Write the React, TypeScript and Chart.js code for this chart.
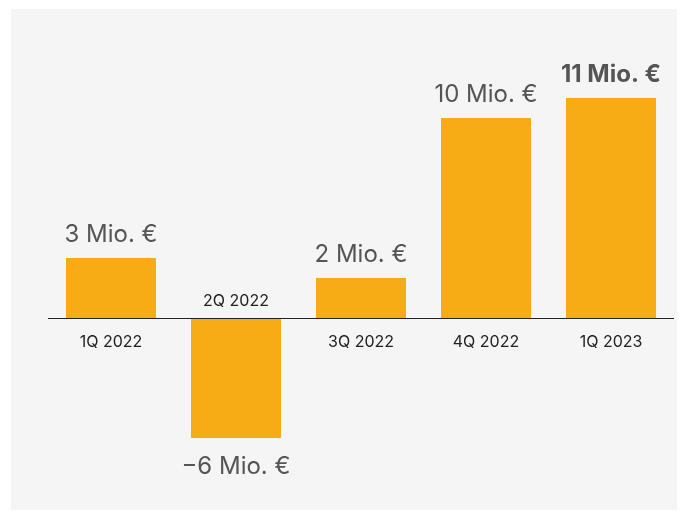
import React, { useEffect, useRef } from "react";
import { Chart, registerables } from "chart.js";

Chart.register(...registerables);

const categories = ["1Q 2022", "2Q 2022", "3Q 2022", "4Q 2022", "1Q 2023"];
const values = [3, -6, 2, 10, 11];
const highlightIndex = 4;
const yMin = -9;
const yMax = 15;

const FONT = "Inter, 'Noto Sans', sans-serif";

function fmt(v: number) {
  return (v < 0 ? "\u2212" + Math.abs(v) : String(v)) + " Mio. \u20AC";
}

export default function App() {
  const ref = useRef<HTMLCanvasElement | null>(null);

  useEffect(() => {
    document.body.style.margin = "0";
    const canvas = ref.current;
    if (!canvas) return;

    const panelPlugin = {
      id: "panel",
      beforeDraw(chart: any) {
        const ctx = chart.ctx;
        ctx.save();
        ctx.fillStyle = "#ffffff";
        ctx.fillRect(0, 0, chart.width, chart.height);
        ctx.fillStyle = "#f5f5f5";
        ctx.fillRect(11, 9, 666, 501);
        ctx.restore();
      },
      afterDatasetsDraw(chart: any) {
        const ctx = chart.ctx;
        const meta = chart.getDatasetMeta(0);
        const zeroY = chart.scales.y.getPixelForValue(0);
        ctx.save();
        ctx.strokeStyle = "#222222";
        ctx.lineWidth = 1;
        ctx.beginPath();
        ctx.moveTo(48, Math.round(zeroY) + 0.5);
        ctx.lineTo(674, Math.round(zeroY) + 0.5);
        ctx.stroke();
        ctx.textAlign = "center";
        meta.data.forEach((el: any, i: number) => {
          const v = values[i];
          const x = el.x;
          const bold = i === highlightIndex;
          ctx.fillStyle = "#555555";
          ctx.font = (bold ? "700 " : "400 ") + "24px " + FONT;
          if (v >= 0) {
            ctx.textBaseline = "alphabetic";
            ctx.fillText(fmt(v), x, el.y - 16);
          } else {
            ctx.textBaseline = "top";
            ctx.fillText(fmt(v), x, el.y + 17);
          }
          ctx.fillStyle = "#222222";
          ctx.font = "400 16px " + FONT;
          if (v >= 0) {
            ctx.textBaseline = "top";
            ctx.fillText(categories[i], x, zeroY + 16);
          } else {
            ctx.textBaseline = "alphabetic";
            ctx.fillText(categories[i], x, zeroY - 12);
          }
        });
        ctx.restore();
      },
    };

    const chart = new Chart(canvas, {
      type: "bar",
      data: {
        labels: categories,
        datasets: [
          {
            data: values,
            backgroundColor: "#F7AC16",
            borderWidth: 0,
            barPercentage: 0.8,
            categoryPercentage: 0.9,
          },
        ],
      },
      options: {
        animation: false,
        responsive: false,
        maintainAspectRatio: false,
        devicePixelRatio: 1,
        layout: { padding: { left: 48.5, right: 11.5, top: 18, bottom: 19 } },
        plugins: {
          legend: { display: false },
          tooltip: { enabled: false },
        },
        scales: {
          x: { display: false },
          y: { display: false, min: yMin, max: yMax },
        },
      },
      plugins: [panelPlugin],
    });

    return () => chart.destroy();
  }, []);

  return (
    <div style={{ position: "fixed", left: 0, top: 0, width: 685, height: 517 }}>
      <canvas ref={ref} width={685} height={517} style={{ width: 685, height: 517, display: "block" }} />
    </div>
  );
}
